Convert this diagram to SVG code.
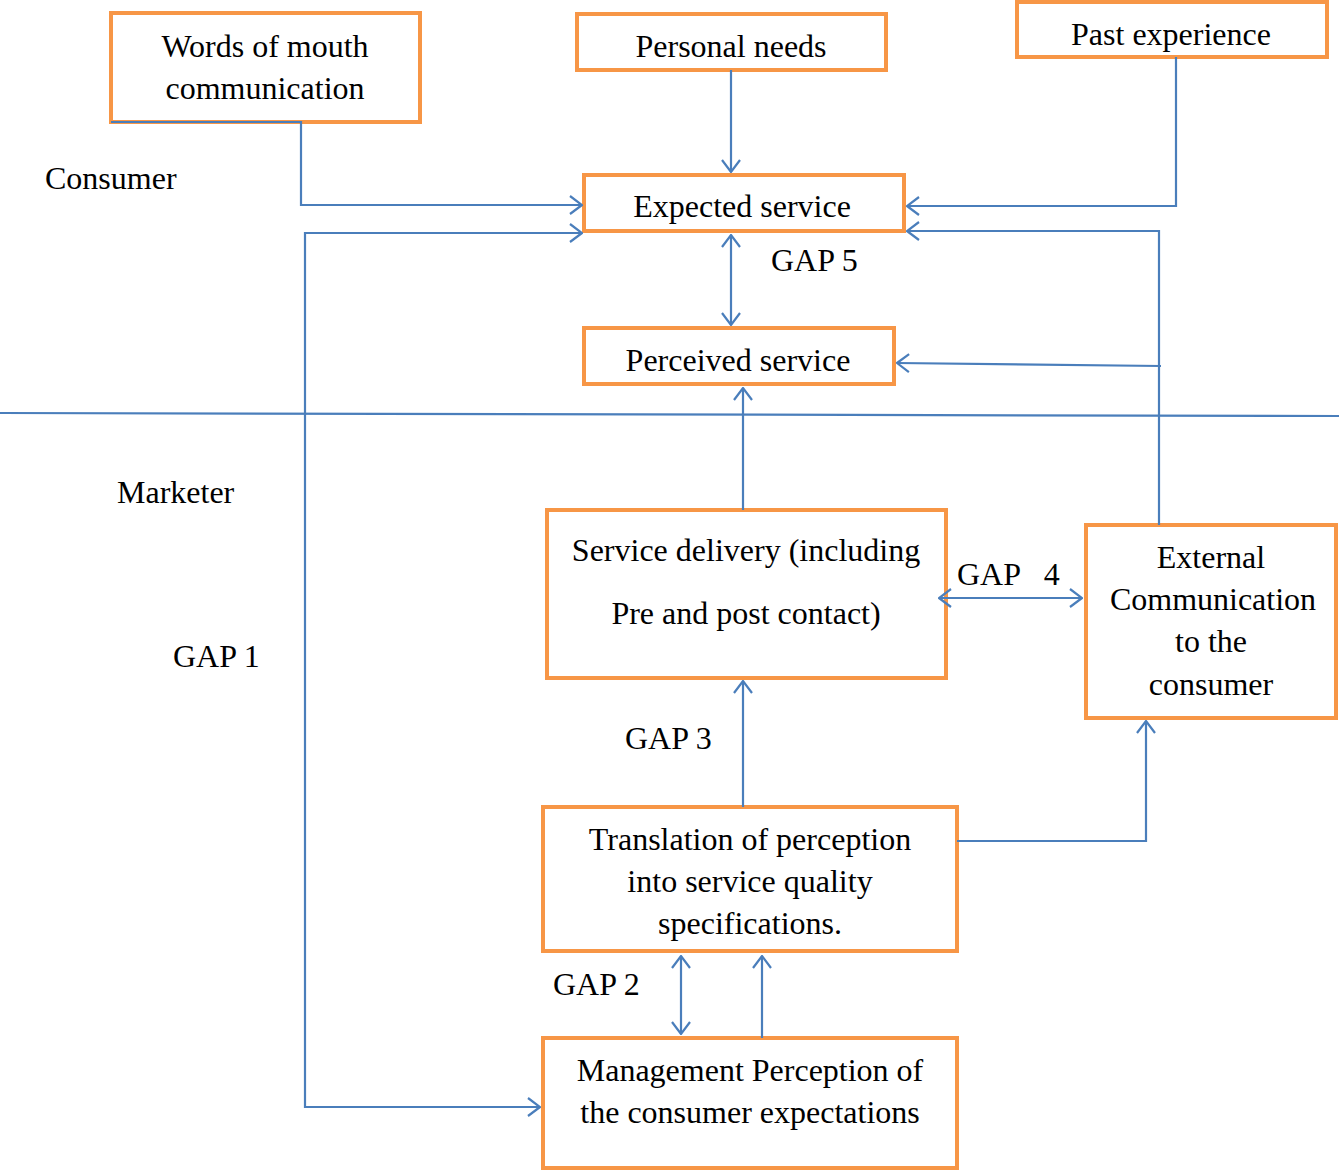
<svg xmlns="http://www.w3.org/2000/svg" width="1339" height="1170" viewBox="0 0 1339 1170">
<style>
.box{fill:#fff;stroke:#F79646;stroke-width:4}
.t{font-family:"Liberation Serif","Times New Roman",serif;font-size:32px;fill:#000}
.c{text-anchor:middle}
.ln{fill:none;stroke:#4A7EBB;stroke-width:2.2}
</style>
<defs>
<marker id="ah" viewBox="0 0 14 20" refX="13" refY="10" markerWidth="14" markerHeight="20" markerUnits="userSpaceOnUse" orient="auto-start-reverse">
<path d="M1,1 L13,10 L1,19" fill="none" stroke="#4A7EBB" stroke-width="2.2"/>
</marker>
</defs>
<rect width="1339" height="1170" fill="#fff"/>
<g id="words">
<rect class="box" x="111" y="13" width="309" height="109"/>
<text class="t c" x="265" y="57">Words of mouth</text>
<text class="t c" x="265" y="99">communication</text>
</g>
<g id="personal">
<rect class="box" x="577" y="14" width="309" height="56"/>
<text class="t c" x="731" y="57">Personal needs</text>
</g>
<g id="past">
<rect class="box" x="1017" y="2" width="310" height="55"/>
<text class="t c" x="1171" y="45">Past experience</text>
</g>
<g id="expected">
<rect class="box" x="584" y="175" width="320" height="56"/>
<text class="t c" x="742" y="217">Expected service</text>
</g>
<g id="perceived">
<rect class="box" x="584" y="328" width="310" height="56"/>
<text class="t c" x="738" y="371">Perceived service</text>
</g>
<g id="delivery">
<rect class="box" x="547" y="510" width="399" height="168"/>
<text class="t c" x="746" y="561">Service delivery (including</text>
<text class="t c" x="746" y="624">Pre and post contact)</text>
</g>
<g id="external">
<rect class="box" x="1086" y="525" width="250" height="193"/>
<text class="t c" x="1211" y="568">External</text>
<text class="t c" x="1213" y="610">Communication</text>
<text class="t c" x="1211" y="652">to the</text>
<text class="t c" x="1211" y="695">consumer</text>
</g>
<g id="translation">
<rect class="box" x="543" y="807" width="414" height="144"/>
<text class="t c" x="750" y="850">Translation of perception</text>
<text class="t c" x="750" y="892">into service quality</text>
<text class="t c" x="750" y="934">specifications.</text>
</g>
<g id="management">
<rect class="box" x="543" y="1038" width="414" height="130"/>
<text class="t c" x="750" y="1081">Management Perception of</text>
<text class="t c" x="750" y="1123">the consumer expectations</text>
</g>
<g id="labels">
<text class="t" x="45" y="189">Consumer</text>
<text class="t" x="117" y="503">Marketer</text>
<text class="t" x="173" y="667">GAP 1</text>
<text class="t" x="771" y="271">GAP 5</text>
<text class="t" x="957" y="585" xml:space="preserve">GAP   4</text>
<text class="t" x="625" y="749">GAP 3</text>
<text class="t" x="553" y="995">GAP 2</text>
</g>
<g id="connectors">
<line class="ln" x1="0" y1="413" x2="1339" y2="416"/>
<polyline class="ln" points="111,122 301,122 301,205 582,205" marker-end="url(#ah)"/>
<line class="ln" x1="731" y1="70" x2="731" y2="172" marker-end="url(#ah)"/>
<polyline class="ln" points="1176,57 1176,206 907,206" marker-end="url(#ah)"/>
<polyline class="ln" points="1159,525 1159,231 907,231" marker-end="url(#ah)"/>
<polyline class="ln" points="1161,366 897,363" marker-end="url(#ah)"/>
<line class="ln" x1="731" y1="235" x2="731" y2="325" marker-start="url(#ah)" marker-end="url(#ah)"/>
<line class="ln" x1="743" y1="510" x2="743" y2="388" marker-end="url(#ah)"/>
<polyline class="ln" points="582,233 305,233 305,1107 540,1107" marker-start="url(#ah)" marker-end="url(#ah)"/>
<line class="ln" x1="939" y1="598" x2="1082" y2="598" marker-start="url(#ah)" marker-end="url(#ah)"/>
<line class="ln" x1="743" y1="807" x2="743" y2="681" marker-end="url(#ah)"/>
<polyline class="ln" points="957,841 1146,841 1146,721" marker-end="url(#ah)"/>
<line class="ln" x1="681" y1="956" x2="681" y2="1034" marker-start="url(#ah)" marker-end="url(#ah)"/>
<line class="ln" x1="762" y1="1038" x2="762" y2="956" marker-end="url(#ah)"/>
</g>
</svg>
